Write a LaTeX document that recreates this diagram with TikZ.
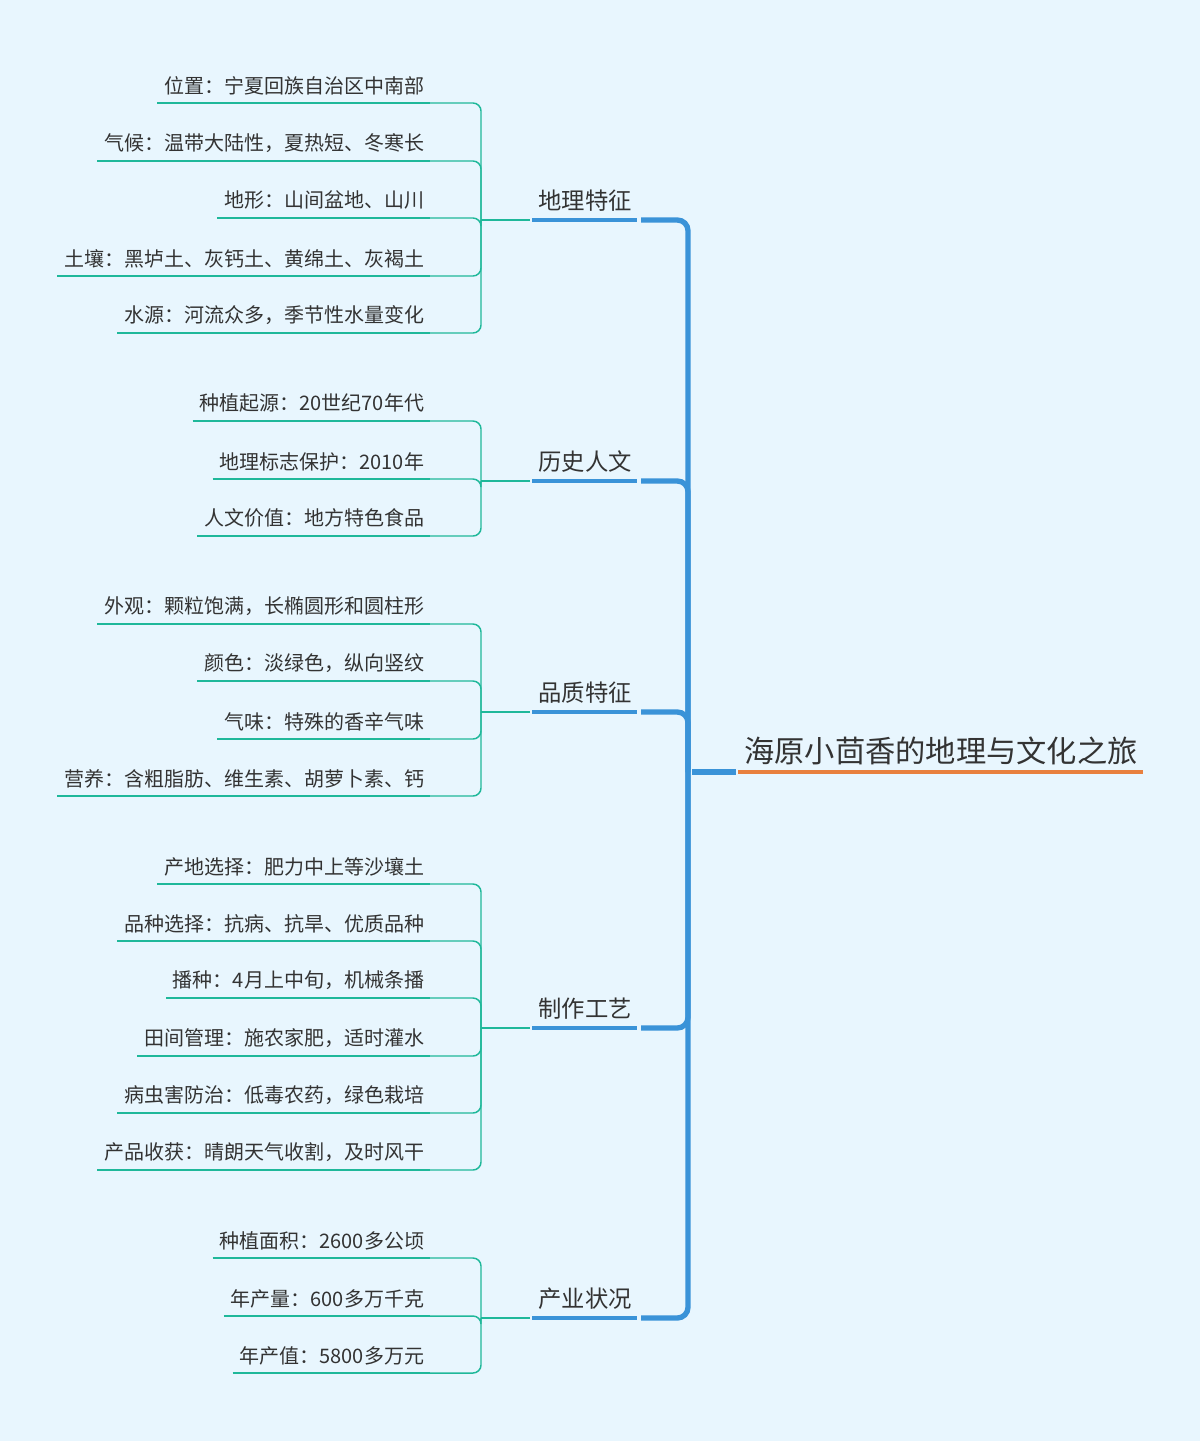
\documentclass[tikz,border=0pt]{standalone}
\usepackage{fontspec}
\setmainfont{Noto Sans CJK SC}
\definecolor{bg}{HTML}{E8F6FE}
\definecolor{teal}{HTML}{1FB89A}
\definecolor{blue}{HTML}{3A93D8}
\definecolor{org}{HTML}{E8803E}
\definecolor{txt}{HTML}{333333}
\begin{document}
\begin{tikzpicture}[x=0.75pt,y=-0.75pt,
  leaf/.style={anchor=south east,inner xsep=5pt,inner ysep=3pt,font=\fontsize{15pt}{17pt}\selectfont,text=txt},
  br/.style={anchor=south,inner sep=3pt,font=\fontsize{17.5pt}{19pt}\selectfont,text=txt},
  thin/.style={draw=teal,line width=1.1pt,rounded corners=6pt},
  leafline/.style={draw=teal,line width=2.2pt},
  trunk/.style={draw=blue,line width=4pt,rounded corners=8pt}]
\fill[bg] (0,0) rectangle (1200,1441);
\useasboundingbox (0,0) rectangle (1200,1441);
% root
\node[anchor=south west,inner sep=3pt,font=\fontsize{22.7pt}{25pt}\selectfont,text=txt] (root) at (740,769) {海原小茴香的地理与文化之旅};
\draw[org,line width=2.3pt] (738,772) -- (1143,772);
\coordinate (rj) at (688,772);
\draw[trunk,rounded corners=0] (692,772) -- (736,772);
\newcommand\branch[3]{%
  \node[br] (#1) at (585,#2-4) {#3};
  \draw[blue,line width=3.5pt] (532,#2) -- (637,#2);
  \draw[trunk] (641,#2) -| (rj);
  \draw[thin] (530,#2) -- (481,#2);}
\newcommand\leaf[4]{%
  \node[leaf] (#1) at (431,#3-4) {#4};
  \draw[leafline] (#1.south west |- 430,#3) -- (430,#3);
  \draw[thin] (481,#2) |- (430,#3);}
\branch{b1}{220}{地理特征}
\leaf{l11}{220}{103}{位置：宁夏回族自治区中南部}
\leaf{l12}{220}{161}{气候：温带大陆性，夏热短、冬寒长}
\leaf{l13}{220}{218}{地形：山间盆地、山川}
\leaf{l14}{220}{276}{土壤：黑垆土、灰钙土、黄绵土、灰褐土}
\leaf{l15}{220}{333}{水源：河流众多，季节性水量变化}
\branch{b2}{481}{历史人文}
\leaf{l21}{481}{421}{种植起源：20世纪70年代}
\leaf{l22}{481}{479}{地理标志保护：2010年}
\leaf{l23}{481}{536}{人文价值：地方特色食品}
\branch{b3}{712}{品质特征}
\leaf{l31}{712}{624}{外观：颗粒饱满，长椭圆形和圆柱形}
\leaf{l32}{712}{681}{颜色：淡绿色，纵向竖纹}
\leaf{l33}{712}{739}{气味：特殊的香辛气味}
\leaf{l34}{712}{796}{营养：含粗脂肪、维生素、胡萝卜素、钙}
\branch{b4}{1028}{制作工艺}
\leaf{l41}{1028}{884}{产地选择：肥力中上等沙壤土}
\leaf{l42}{1028}{941}{品种选择：抗病、抗旱、优质品种}
\leaf{l43}{1028}{998}{播种：4月上中旬，机械条播}
\leaf{l44}{1028}{1056}{田间管理：施农家肥，适时灌水}
\leaf{l45}{1028}{1113}{病虫害防治：低毒农药，绿色栽培}
\leaf{l46}{1028}{1170}{产品收获：晴朗天气收割，及时风干}
\branch{b5}{1318}{产业状况}
\leaf{l51}{1318}{1258}{种植面积：2600多公顷}
\leaf{l52}{1318}{1316}{年产量：600多万千克}
\leaf{l53}{1318}{1373}{年产值：5800多万元}
\end{tikzpicture}
\end{document}
